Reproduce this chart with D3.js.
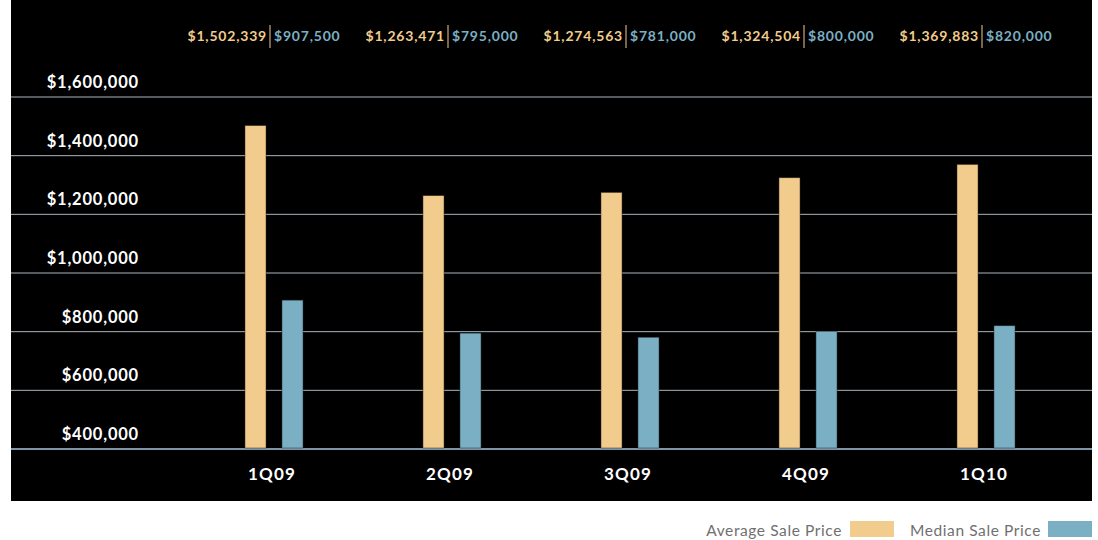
<!DOCTYPE html>
<html>
<head>
<meta charset="utf-8">
<script src="https://cdn.jsdelivr.net/npm/d3@7"></script>
<style>
  html, body { margin: 0; padding: 0; background: #ffffff; }
  svg { display: block; }
</style>
</head>
<body>
<svg id="chart" width="1098" height="540"></svg>
<script>
// Quarterly sale prices
const quarters = ["1Q09", "2Q09", "3Q09", "4Q09", "1Q10"];
const averagePrice = [1502339, 1263471, 1274563, 1324504, 1369883];
const medianPrice = [907500, 795000, 781000, 800000, 820000];
const yTicks = [400000, 600000, 800000, 1000000, 1200000, 1400000, 1600000];
const seriesNames = ["Average Sale Price", "Median Sale Price"];

const colors = { avg: "#f2cc8c", med: "#7bafc4" };
const fmt = d3.format("$,");
const FONT = "Lato, 'Open Sans', sans-serif";

const svg = d3.select("#chart");
const panel = { x: 11, y: 0, w: 1081, h: 501 };

svg.append("rect")
  .attr("x", panel.x).attr("y", panel.y)
  .attr("width", panel.w).attr("height", panel.h)
  .attr("fill", "#000");

const y = d3.scaleLinear().domain([400000, 1600000]).range([449, 97]);
const x = d3.scaleBand().domain(quarters).range([185, 1075]).paddingInner(0).paddingOuter(0);
const barW = 21, gap = 16;

// Grid lines
svg.append("g").selectAll("line").data(yTicks).join("line")
  .attr("x1", panel.x).attr("x2", panel.x + panel.w)
  .attr("y1", d => y(d)).attr("y2", d => y(d))
  .attr("stroke", d => d === 400000 ? "#7d95a4" : "#a9b4bc")
  .attr("stroke-width", d => d === 400000 ? 2 : 1);

// Y labels sit above their grid lines
svg.append("g").selectAll("text").data(yTicks).join("text")
  .attr("x", 139).attr("y", d => y(d) - 9)
  .attr("text-anchor", "end")
  .attr("fill", "#fff")
  .attr("font-family", FONT)
  .attr("font-weight", "bold")
  .attr("font-size", 16.5)
  .attr("letter-spacing", 0.8)
  .text(d => fmt(d));

const cx = q => x(q) + x.bandwidth() / 2;

// Bars
const g = svg.append("g");
g.selectAll("rect.avg").data(quarters).join("rect")
  .attr("class", "avg")
  .attr("x", q => cx(q) - gap / 2 - barW)
  .attr("width", barW)
  .attr("y", (q, i) => y(averagePrice[i]))
  .attr("height", (q, i) => y(400000) - y(averagePrice[i]) - 1)
  .attr("fill", colors.avg)
  .attr("stroke", "#3a3328").attr("stroke-width", 0.5);
g.selectAll("rect.med").data(quarters).join("rect")
  .attr("class", "med")
  .attr("x", q => cx(q) + gap / 2)
  .attr("width", barW)
  .attr("y", (q, i) => y(medianPrice[i]))
  .attr("height", (q, i) => y(400000) - y(medianPrice[i]) - 1)
  .attr("fill", colors.med)
  .attr("stroke", "#26343a").attr("stroke-width", 0.5);

// Category labels
svg.append("g").selectAll("text").data(quarters).join("text")
  .attr("x", q => cx(q) - 2).attr("y", 480)
  .attr("text-anchor", "middle")
  .attr("fill", "#fff")
  .attr("font-family", FONT)
  .attr("font-weight", "bold")
  .attr("font-size", 17)
  .attr("letter-spacing", 1.2)
  .text(q => q);

// Value labels along the top
const valueLabels = svg.append("g");
quarters.forEach((q, i) => {
  const sx = cx(q) - 4;
  valueLabels.append("line")
    .attr("x1", sx).attr("x2", sx).attr("y1", 25).attr("y2", 48)
    .attr("stroke", colors.avg).attr("stroke-width", 1);
  valueLabels.append("text")
    .attr("x", sx - 3).attr("y", 41)
    .attr("text-anchor", "end")
    .attr("fill", colors.avg)
    .attr("font-family", FONT)
    .attr("font-weight", "bold").attr("font-size", 14)
    .attr("letter-spacing", 0.8)
    .text(fmt(averagePrice[i]));
  valueLabels.append("text")
    .attr("x", sx + 4).attr("y", 41)
    .attr("text-anchor", "start")
    .attr("fill", colors.med)
    .attr("font-family", FONT)
    .attr("font-weight", "bold").attr("font-size", 14)
    .attr("letter-spacing", 0.8)
    .text(fmt(medianPrice[i]));
});

// Legend
const legend = svg.append("g");
const legendItems = [
  { name: seriesNames[0], color: colors.avg, textEnd: 842, sw: 850 },
  { name: seriesNames[1], color: colors.med, textEnd: 1041, sw: 1048 }
];
legendItems.forEach(it => {
  legend.append("text")
    .attr("x", it.textEnd).attr("y", 536)
    .attr("text-anchor", "end")
    .attr("fill", "#707070")
    .attr("font-family", FONT)
    .attr("font-size", 15.5)
    .attr("letter-spacing", 0.6)
    .text(it.name);
  legend.append("rect")
    .attr("x", it.sw).attr("y", 521)
    .attr("width", 44).attr("height", 16)
    .attr("fill", it.color);
});
</script>
</body>
</html>
